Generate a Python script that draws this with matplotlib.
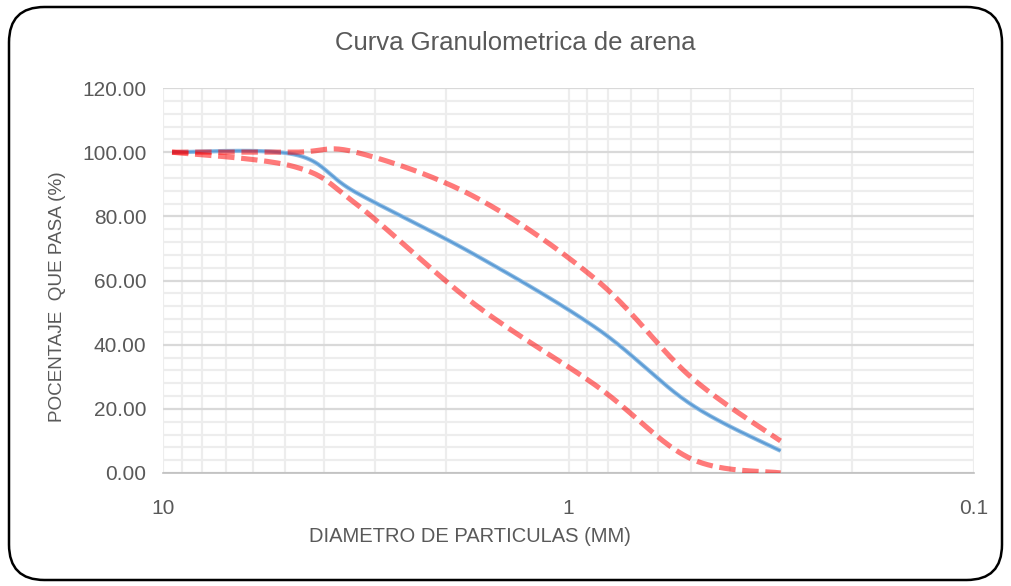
import numpy as np
import matplotlib
matplotlib.use("Agg")
import matplotlib.pyplot as plt
from matplotlib.patches import FancyBboxPatch
from matplotlib.ticker import FixedLocator, LogLocator, NullFormatter

plt.rcParams["font.family"] = ["Liberation Sans", "DejaVu Sans"]

# ---- data ----
sizes_mm = [9.5, 4.75, 3.35, 1.7, 0.85, 0.5, 0.3]
arena = [100.0, 99.3, 87.5, 68.0, 45.0, 21.5, 6.9]
lim_sup = [100.0, 100.0, 100.0, 86.0, 60.0, 30.0, 10.0]
lim_inf = [100.0, 95.5, 84.0, 52.5, 27.0, 4.5, 0.0]
y_ticks = [0, 20, 40, 60, 80, 100, 120]
x_ticks = [10, 1, 0.1]
x_tick_labels = ["10", "1", "0.1"]
title = "Curva Granulometrica de arena"
xlabel = "DIAMETRO DE PARTICULAS (MM)"
ylabel = "POCENTAJE  QUE PASA (%)"


def excel_smooth(xs, ys, n=40):
    """Bezier smoothing similar to a spreadsheet 'smoothed line' (log-x space)."""
    u = np.log10(np.asarray(xs, float))
    v = np.asarray(ys, float)
    P = np.column_stack([u, v])
    m = len(P)
    out = []
    t = np.linspace(0, 1, n)
    for i in range(m - 1):
        p0 = P[i - 1] if i > 0 else P[i]
        p1 = P[i]
        p2 = P[i + 1]
        p3 = P[i + 2] if i + 2 < m else P[i + 1]
        c1 = p1 + (p2 - p0) / 6.0
        c2 = p2 - (p3 - p1) / 6.0
        seg = ((1 - t)[:, None] ** 3 * p1 + 3 * ((1 - t) ** 2 * t)[:, None] * c1
               + 3 * ((1 - t) * t ** 2)[:, None] * c2 + (t ** 3)[:, None] * p2)
        out.append(seg if i == 0 else seg[1:])
    S = np.vstack(out)
    return 10 ** S[:, 0], S[:, 1]


W, H = 1011, 586
fig = plt.figure(figsize=(W / 100, H / 100), dpi=100)

# rounded border
border = FancyBboxPatch((9 / W, 6 / H), (W - 18) / W, (H - 13) / H,
                        boxstyle="round,pad=0,rounding_size=0.035",
                        transform=fig.transFigure, fill=False,
                        edgecolor="black", linewidth=1.8, mutation_aspect=W / H)
fig.patches.append(border)

ax = fig.add_axes([163 / W, 1 - 473 / H, (974 - 163) / W, (473 - 88) / H])
ax.set_xscale("log")
ax.set_xlim(10, 0.1)
ax.set_ylim(0, 120)

ax.xaxis.set_major_locator(FixedLocator(x_ticks))
ax.set_xticklabels(x_tick_labels)
ax.xaxis.set_minor_locator(LogLocator(base=10, subs=np.arange(2, 10)))
ax.xaxis.set_minor_formatter(NullFormatter())
ax.yaxis.set_major_locator(FixedLocator(y_ticks))
ax.set_yticklabels([f"{v:.2f}" for v in y_ticks])
ax.yaxis.set_minor_locator(FixedLocator(np.arange(0, 121, 4)))

ax.grid(True, which="major", axis="y", color="#D9D9D9", linewidth=1.6)
ax.grid(True, which="minor", axis="y", color="#EDEDED", linewidth=1.6)
ax.grid(True, which="both", axis="x", color="#EDEDED", linewidth=1.6)
ax.set_axisbelow(True)
for s in ["top", "right", "left"]:
    ax.spines[s].set_visible(False)
ax.spines["bottom"].set_color("#BFBFBF")
ax.spines["bottom"].set_linewidth(1.2)
ax.tick_params(which="both", length=0)
ax.tick_params(axis="y", pad=12, labelsize=15, labelcolor="#595959")
ax.tick_params(axis="x", pad=19, labelsize=15, labelcolor="#595959")

xb, yb = excel_smooth(sizes_mm, arena)
ax.plot(xb, yb, color="#8DBBE3", linewidth=3.0, solid_capstyle="butt", zorder=3)
ax.plot(xb, yb, color="#5B9BD5", linewidth=1.4, solid_capstyle="butt", zorder=3)

for series in (lim_sup, lim_inf):
    xs, ys = excel_smooth(sizes_mm, series)
    ax.plot(xs, ys, color="#FF0000", alpha=0.52, linewidth=3.7,
            linestyle=(0, (3.2, 1.3)), dash_capstyle="butt", zorder=4)

fig.text(515 / W, 1 - 43 / H, title, ha="center", va="center",
         fontsize=18.5, color="#595959")
fig.text(470 / W, 1 - 537 / H, xlabel, ha="center", va="center",
         fontsize=14.5, color="#595959")
fig.text(57 / W, 1 - 297 / H, ylabel, ha="center", va="center", rotation=90,
         fontsize=13.6, color="#595959")

fig.savefig("out.png", dpi=100)
